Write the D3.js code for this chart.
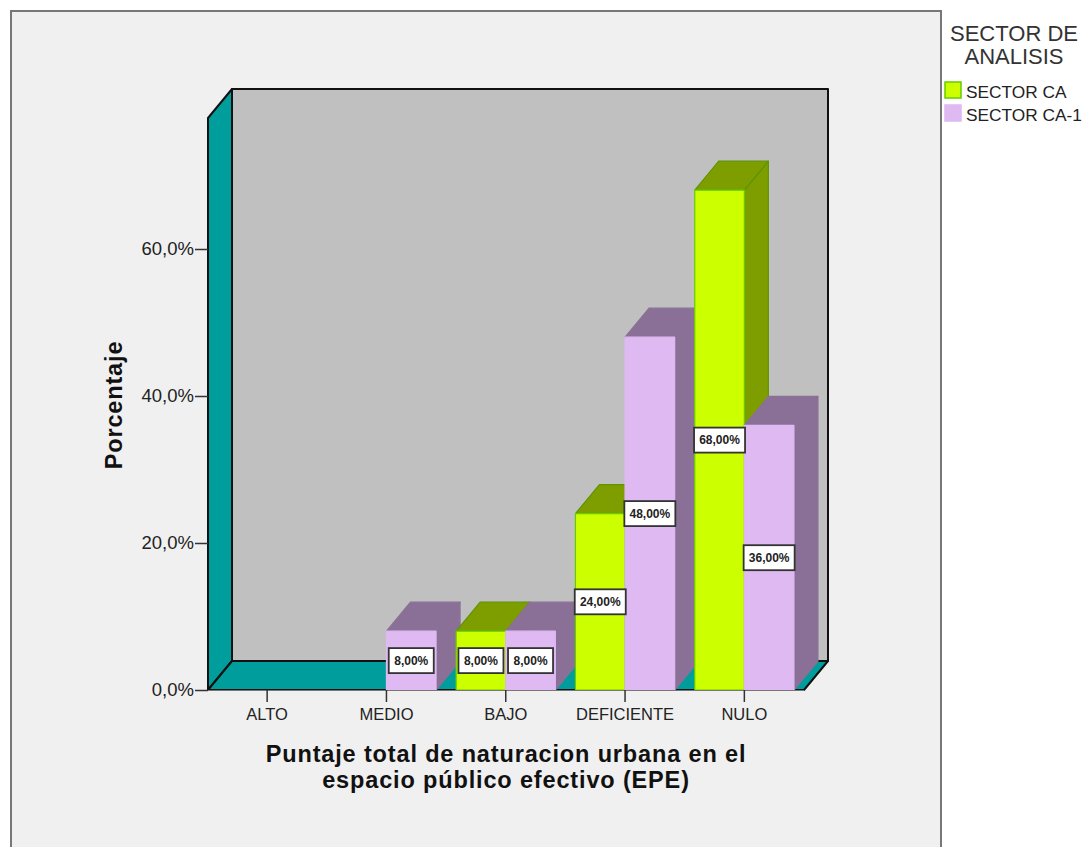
<!DOCTYPE html>
<html lang="es">
<head>
<meta charset="utf-8">
<title>Puntaje total de naturacion urbana</title>
<script src="https://cdn.jsdelivr.net/npm/d3@7"></script>
<style>
  html, body { margin: 0; padding: 0; background: #fff; }
  svg { display: block; font-family: "Liberation Sans", Arial, sans-serif; }
</style>
</head>
<body>
<svg id="chart" width="1084" height="847"></svg>
<script>
// Percentages per category and sector
const categories = ["ALTO", "MEDIO", "BAJO", "DEFICIENTE", "NULO"];
const sectors = ["SECTOR CA", "SECTOR CA-1"];
const sectorCA = [0, 0, 8, 24, 68];
const sectorCA1 = [0, 8, 8, 48, 36];
const yTicks = [0, 20, 40, 60];

const fmtTick = v => v.toFixed(1).replace(".", ",") + "%";
const fmtLabel = v => v.toFixed(2).replace(".", ",") + "%";

// Oblique projection offset of the 3D box
const depthX = 24, depthY = -29;
const plotLeft = 208, plotRight = 804, plotBase = 690, plotTop = 118;

const svg = d3.select("#chart");
const y = d3.scaleLinear().domain([0, 60]).range([plotBase, 249]);
const x = d3.scaleBand().domain(categories).range([plotLeft - 0.5, plotRight]);
const barW = 49.6;
const inner = d3.scaleBand().domain(sectors).range([-barW, barW]);

const palette = {
  "SECTOR CA": { front: "#ccff00", side: "#7e9e00", edge: "#66cc00", sideEdge: "#5f9400" },
  "SECTOR CA-1": { front: "#deb9f2", side: "#8a7096", edge: "#deb9f2", sideEdge: "#8a7096" }
};

// Outer frame, open past the bottom of the page
svg.append("rect").attr("x", 11).attr("y", 11).attr("width", 930).attr("height", 900)
  .attr("fill", "#f0f0f0").attr("stroke", "#777").attr("stroke-width", 2);

// Back wall, side wall and floor of the box
const poly = pts => pts.map(p => p.join(",")).join(" ");
const box = svg.append("g").attr("stroke", "#111").attr("stroke-width", 2).attr("stroke-linejoin", "round");
box.append("polygon")
  .attr("points", poly([[plotLeft + depthX, plotTop + depthY], [plotRight + depthX, plotTop + depthY], [plotRight + depthX, plotBase + depthY], [plotLeft + depthX, plotBase + depthY]]))
  .attr("fill", "#c0c0c0");
box.append("polygon")
  .attr("points", poly([[plotLeft, plotTop], [plotLeft + depthX, plotTop + depthY], [plotLeft + depthX, plotBase + depthY], [plotLeft, plotBase]]))
  .attr("fill", "#009d9d");
box.append("polygon")
  .attr("points", poly([[plotLeft, plotBase], [plotLeft + depthX, plotBase + depthY], [plotRight + depthX, plotBase + depthY], [plotRight, plotBase]]))
  .attr("fill", "#009d9d");

// One record per visible bar, in painting order
const bars = [];
categories.forEach((c, i) => {
  [sectorCA[i], sectorCA1[i]].forEach((v, k) => {
    if (v > 0) bars.push({ category: c, sector: sectors[k], value: v });
  });
});
const barLeft = d => x(d.category) + x.bandwidth() / 2 + inner(d.sector);

const gBars = svg.append("g");
bars.forEach(d => {
  const c = palette[d.sector];
  const x0 = barLeft(d), x1 = x0 + barW, yT = y(d.value), yB = y(0);
  const g = gBars.append("g").attr("stroke-width", 1.2).attr("stroke-linejoin", "round");
  // Right side
  g.append("polygon")
    .attr("points", poly([[x1, yT], [x1 + depthX, yT + depthY], [x1 + depthX, yB + depthY], [x1, yB]]))
    .attr("fill", c.side).attr("stroke", c.sideEdge);
  // Top
  g.append("polygon")
    .attr("points", poly([[x0, yT], [x0 + depthX, yT + depthY], [x1 + depthX, yT + depthY], [x1, yT]]))
    .attr("fill", c.side).attr("stroke", c.sideEdge);
  // Front
  g.append("rect").attr("x", x0).attr("y", yT).attr("width", barW).attr("height", yB - yT)
    .attr("fill", c.front).attr("stroke", c.edge);
});

// Axes
const yAxis = svg.append("g").attr("transform", `translate(${plotLeft},0)`)
  .call(d3.axisLeft(y).tickValues(yTicks).tickFormat(fmtTick).tickSize(13).tickSizeOuter(0).tickPadding(1));
const xAxis = svg.append("g").attr("transform", `translate(0,${plotBase})`)
  .call(d3.axisBottom(x).tickSize(12).tickSizeOuter(0).tickPadding(6));
yAxis.select(".domain").remove();
xAxis.select(".domain").attr("stroke", "#777").attr("stroke-width", 1);
[yAxis, xAxis].forEach(a => {
  a.selectAll("line").attr("stroke", "#333").attr("stroke-width", 1.5);
  a.selectAll("text").attr("fill", "#222").style("font-family", "inherit");
});
yAxis.selectAll("text").style("font-size", "18.5px");
xAxis.selectAll("text").style("font-size", "16.5px");

// Value labels at the middle of each bar
const gLabels = svg.append("g");
bars.forEach(d => {
  const cx = barLeft(d) + barW / 2, cy = y(d.value / 2);
  const w = d.value < 10 ? 45 : 51, h = 25;
  gLabels.append("rect").attr("x", cx - w / 2).attr("y", cy - h / 2).attr("width", w).attr("height", h)
    .attr("fill", "#fff").attr("stroke", "#333").attr("stroke-width", 1.8);
  gLabels.append("text").attr("x", cx).attr("y", cy).attr("dy", "0.36em")
    .attr("text-anchor", "middle").attr("font-size", 12).attr("font-weight", 700).attr("fill", "#222")
    .text(fmtLabel(d.value));
});

// Axis titles
svg.append("text").attr("transform", "translate(122,405) rotate(-90)")
  .attr("text-anchor", "middle").attr("font-size", 23.5).attr("letter-spacing", 0.85)
  .attr("font-weight", 700).attr("fill", "#111")
  .text("Porcentaje");
const xTitle = svg.append("text").attr("text-anchor", "middle").attr("font-size", 23.5)
  .attr("letter-spacing", 0.85).attr("font-weight", 700).attr("fill", "#111");
xTitle.append("tspan").attr("x", 506).attr("y", 762).text("Puntaje total de naturacion urbana en el");
xTitle.append("tspan").attr("x", 506).attr("y", 788).text("espacio público efectivo (EPE)");

// Legend
const legendTitle = svg.append("text").attr("text-anchor", "middle").attr("font-size", 22).attr("fill", "#333");
legendTitle.append("tspan").attr("x", 1014).attr("y", 41).text("SECTOR DE");
legendTitle.append("tspan").attr("x", 1014).attr("y", 64).text("ANALISIS");
sectors.forEach((s, i) => {
  const ly = 82 + i * 23;
  svg.append("rect").attr("x", 945).attr("y", ly).attr("width", 16).attr("height", 16)
    .attr("fill", palette[s].front).attr("stroke", palette[s].edge).attr("stroke-width", 1.5);
  svg.append("text").attr("x", 966).attr("y", ly + 16).attr("font-size", 17.3).attr("fill", "#222").text(s);
});
</script>
</body>
</html>
